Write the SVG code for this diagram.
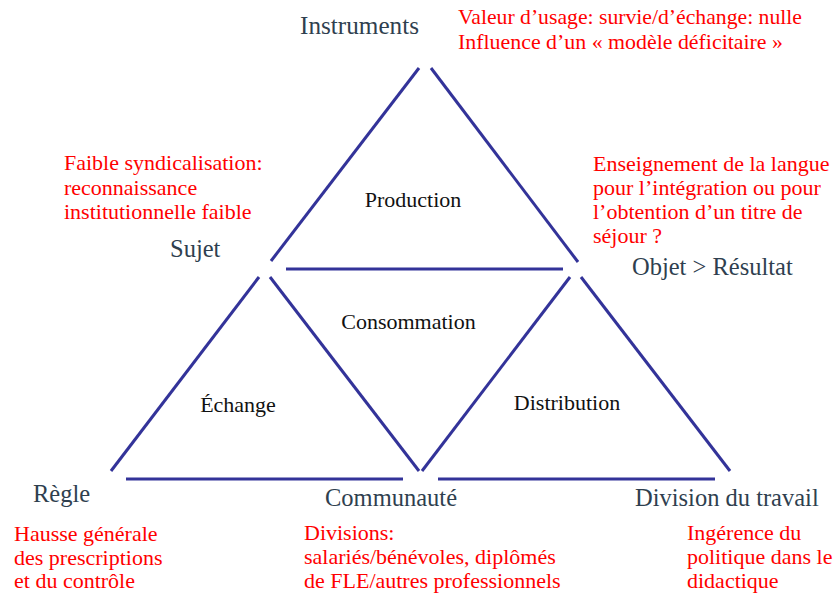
<svg xmlns="http://www.w3.org/2000/svg" width="836" height="596" viewBox="0 0 836 596">
<style>
.ln{stroke:#333399;stroke-width:3;fill:none}
.lab{font-family:"Liberation Serif","Times New Roman",serif;font-size:24.5px;fill:#2f3f4f}
.red{font-family:"Liberation Serif","Times New Roman",serif;font-size:22px;fill:#ff0000}
.ctr{font-family:"Liberation Serif","Times New Roman",serif;font-size:22px;fill:#111111;text-anchor:middle}
</style>
<rect width="836" height="596" fill="#ffffff"/>
<g id="connectors">
<line class="ln" x1="419" y1="68" x2="271" y2="261"/>
<line class="ln" x1="431" y1="68" x2="578" y2="262"/>
<line class="ln" x1="286" y1="269" x2="563" y2="269"/>
<line class="ln" x1="259" y1="277" x2="111" y2="471"/>
<line class="ln" x1="270" y1="277" x2="419" y2="471"/>
<line class="ln" x1="126" y1="479" x2="403" y2="479"/>
<line class="ln" x1="570" y1="277" x2="422" y2="471"/>
<line class="ln" x1="581" y1="277" x2="730" y2="471"/>
<line class="ln" x1="438" y1="479" x2="715" y2="479"/>
</g>
<g id="production"><text class="ctr" x="413" y="207">Production</text></g>
<g id="consommation"><text class="ctr" x="408.5" y="329">Consommation</text></g>
<g id="echange"><text class="ctr" x="238" y="412">Échange</text></g>
<g id="distribution"><text class="ctr" x="567" y="410">Distribution</text></g>
<g id="instruments">
<text class="lab" x="300" y="34" textLength="119" lengthAdjust="spacingAndGlyphs">Instruments</text>
<text class="red" x="458" y="24" textLength="344" lengthAdjust="spacingAndGlyphs">Valeur d’usage: survie/d’échange: nulle</text>
<text class="red" x="458" y="49" textLength="325" lengthAdjust="spacingAndGlyphs">Influence d’un « modèle déficitaire »</text>
</g>
<g id="sujet">
<text class="red" x="64" y="170">Faible syndicalisation:</text>
<text class="red" x="64" y="194.5">reconnaissance</text>
<text class="red" x="64" y="219">institutionnelle faible</text>
<text class="lab" x="170" y="257">Sujet</text>
</g>
<g id="objet">
<text class="red" x="593" y="171">Enseignement de la langue</text>
<text class="red" x="593" y="195">pour l’intégration ou pour</text>
<text class="red" x="593" y="219">l’obtention d’un titre de</text>
<text class="red" x="593" y="243">séjour ?</text>
<text class="lab" x="632" y="275">Objet &gt; Résultat</text>
</g>
<g id="regle">
<text class="lab" x="33" y="502">Règle</text>
<text class="red" x="14" y="541">Hausse générale</text>
<text class="red" x="14" y="565">des prescriptions</text>
<text class="red" x="14" y="588">et du contrôle</text>
</g>
<g id="communaute">
<text class="lab" x="325" y="506">Communauté</text>
<text class="red" x="304" y="540">Divisions:</text>
<text class="red" x="304" y="564">salariés/bénévoles, diplômés</text>
<text class="red" x="304" y="588">de FLE/autres professionnels</text>
</g>
<g id="division">
<text class="lab" x="635" y="506">Division du travail</text>
<text class="red" x="687" y="540">Ingérence du</text>
<text class="red" x="687" y="564">politique dans le</text>
<text class="red" x="687" y="588">didactique</text>
</g>
</svg>
